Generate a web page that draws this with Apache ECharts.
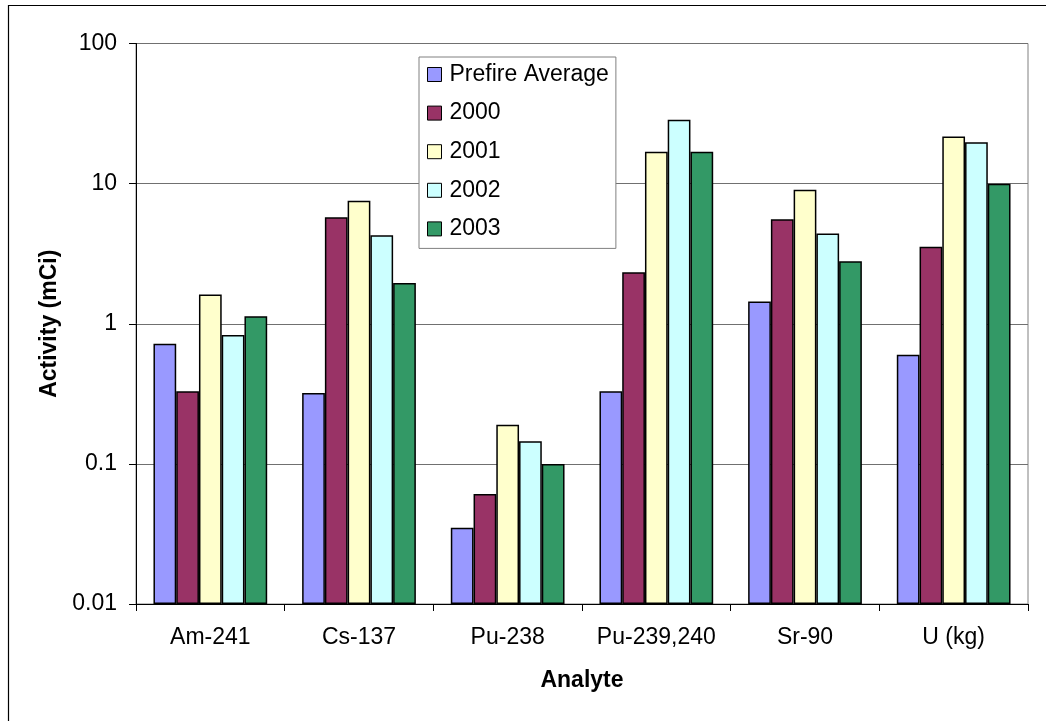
<!DOCTYPE html>
<html>
<head>
<meta charset="utf-8">
<script src="https://cdn.jsdelivr.net/npm/echarts@6/dist/echarts.min.js"></script>
<style>
html,body{margin:0;padding:0;background:#fff;}
#chart{width:1046px;height:721px;}
</style>
</head>
<body>
<div id="chart"></div>
<script>
const categories = ['Am-241', 'Cs-137', 'Pu-238', 'Pu-239,240', 'Sr-90', 'U (kg)'];
const seriesNames = ['Prefire Average', '2000', '2001', '2002', '2003'];
const prefire = [0.72, 0.32, 0.035, 0.33, 1.44, 0.60];
const y2000 = [0.33, 5.75, 0.061, 2.33, 5.56, 3.55];
const y2001 = [1.62, 7.56, 0.19, 16.9, 9.06, 21.7];
const y2002 = [0.83, 4.28, 0.145, 28.6, 4.4, 19.7];
const y2003 = [1.13, 1.95, 0.10, 16.9, 2.79, 10.0];
const yTickLabels = ['0.01', '0.1', '1', '10', '100'];
const colors = ['#9999FF', '#993366', '#FFFFCC', '#CCFFFF', '#339966'];

const seriesData = [prefire, y2000, y2001, y2002, y2003];
const FONT = '"Liberation Sans", Arial, sans-serif';

const chart = echarts.init(document.getElementById('chart'), null, {renderer: 'canvas'});
chart.setOption({
  animation: false,
  backgroundColor: '#fff',
  textStyle: {fontFamily: FONT, color: '#000'},
  graphic: [{
    type: 'rect', silent: true, z: -1,
    shape: {x: 8.5, y: 5.5, width: 1200, height: 900},
    style: {fill: 'none', stroke: '#000', lineWidth: 1.2}
  }],
  grid: {left: 136, right: 18, top: 43.5, bottom: 117, show: true, borderColor: '#808080', borderWidth: 1, backgroundColor: 'transparent'},
  legend: {
    orient: 'vertical',
    left: 419, top: 57,
    padding: [6, 7, 8, 8],
    itemGap: 15.6,
    itemWidth: 14, itemHeight: 14,
    icon: 'rect',
    borderColor: '#808080', borderWidth: 1,
    backgroundColor: '#fff',
    itemStyle: {borderColor: '#000', borderWidth: 1},
    textStyle: {fontFamily: FONT, fontSize: 23, lineHeight: 23, color: '#000', padding: [0, 0, 0, 3]},
    data: seriesNames
  },
  xAxis: {
    type: 'category',
    data: categories,
    boundaryGap: true,
    name: 'Analyte',
    nameLocation: 'middle',
    nameGap: 65,
    nameTextStyle: {fontFamily: FONT, fontSize: 23, fontWeight: 'bold', color: '#000'},
    axisLine: {lineStyle: {color: '#000', width: 1}},
    axisTick: {show: true, length: 7, alignWithLabel: false, lineStyle: {color: '#000'}},
    axisLabel: {fontFamily: FONT, fontSize: 23, color: '#000', margin: 22, interval: 0},
    splitLine: {show: false}
  },
  yAxis: {
    type: 'log',
    logBase: 10,
    min: 0.01, max: 100,
    startValue: 0.01,
    name: 'Activity (mCi)',
    nameLocation: 'middle',
    nameGap: 75,
    nameRotate: 90,
    nameTextStyle: {fontFamily: FONT, fontSize: 23, fontWeight: 'bold', color: '#000'},
    axisLine: {show: true, lineStyle: {color: '#000', width: 1}},
    axisTick: {show: true, length: 7, lineStyle: {color: '#000'}},
    axisLabel: {
      fontFamily: FONT, fontSize: 23, color: '#000', margin: 19,
      formatter: function (v) {
        const idx = Math.round(Math.log10(v)) + 2;
        return yTickLabels[idx] !== undefined ? yTickLabels[idx] : '';
      }
    },
    splitLine: {show: true, lineStyle: {color: '#707070', width: 1}},
    minorTick: {show: false}
  },
  series: seriesNames.map((name, i) => ({
    name: name,
    type: 'bar',
    data: seriesData[i],
    barGap: '0%',
    barCategoryGap: '23.5%',
    itemStyle: {color: colors[i], borderColor: '#000', borderWidth: 1.5}
  }))
});
</script>
</body>
</html>
